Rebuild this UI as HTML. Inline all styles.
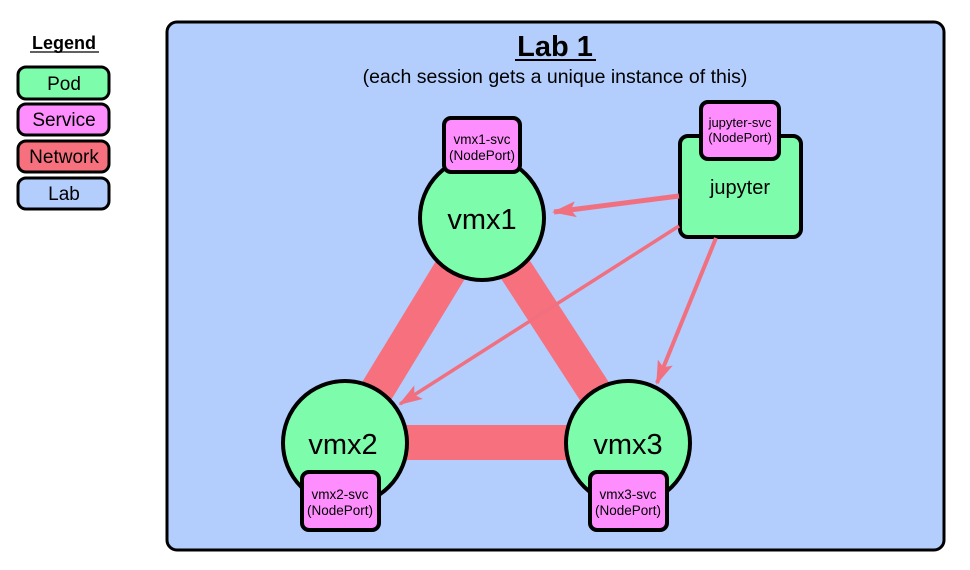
<!DOCTYPE html>
<html><head><meta charset="utf-8"><style>
html,body{margin:0;padding:0;background:#fff;}
svg{display:block;font-family:"Liberation Sans",Arial,sans-serif;}
</style></head><body>
<svg width="970" height="570" viewBox="0 0 970 570" xmlns="http://www.w3.org/2000/svg">
<defs>
<marker id="ah" markerWidth="24" markerHeight="16" refX="22" refY="8" orient="auto" markerUnits="userSpaceOnUse">
<path d="M0,0 L24,8 L0,16 L5,8 Z" fill="#f07080"/>
</marker>
</defs>
<!-- Legend -->
<text x="64" y="49" text-anchor="middle" font-size="18" font-weight="bold">Legend</text>
<line x1="30" y1="52" x2="99" y2="52" stroke="#000" stroke-width="1.3"/>
<rect x="18" y="67" width="91" height="32" rx="8" fill="#7dfdab" stroke="#000" stroke-width="3"/>
<text x="64" y="90" text-anchor="middle" font-size="19">Pod</text>
<rect x="18" y="104" width="91" height="31" rx="8" fill="#fe8efe" stroke="#000" stroke-width="3"/>
<text x="64" y="126" text-anchor="middle" font-size="19">Service</text>
<rect x="18" y="141" width="91" height="31" rx="8" fill="#f7707e" stroke="#000" stroke-width="3"/>
<text x="64" y="163" text-anchor="middle" font-size="19">Network</text>
<rect x="18" y="178" width="91" height="31" rx="8" fill="#b3cdfc" stroke="#000" stroke-width="3"/>
<text x="64" y="200" text-anchor="middle" font-size="19">Lab</text>
<!-- Lab -->
<rect x="167" y="22" width="777" height="528" rx="10" fill="#b3cdfc" stroke="#000" stroke-width="3"/>
<text x="555" y="56" text-anchor="middle" font-size="29" font-weight="bold">Lab 1</text>
<line x1="515" y1="60" x2="596" y2="60" stroke="#000" stroke-width="2"/>
<text x="555" y="83" text-anchor="middle" font-size="19.5">(each session gets a unique instance of this)</text>
<!-- network bands -->
<line x1="482" y1="218" x2="345" y2="443" stroke="#f7707e" stroke-width="34"/>
<line x1="482" y1="218" x2="628" y2="443" stroke="#f7707e" stroke-width="34"/>
<rect x="345" y="425" width="283" height="35" fill="#f7707e"/>
<!-- circles -->
<circle cx="482" cy="218" r="62" fill="#7dfdab" stroke="#000" stroke-width="4"/>
<text x="482" y="229" text-anchor="middle" font-size="29">vmx1</text>
<circle cx="345" cy="443" r="62" fill="#7dfdab" stroke="#000" stroke-width="4"/>
<text x="343" y="454" text-anchor="middle" font-size="29">vmx2</text>
<circle cx="628" cy="443" r="62" fill="#7dfdab" stroke="#000" stroke-width="4"/>
<text x="628" y="454" text-anchor="middle" font-size="29">vmx3</text>
<!-- jupyter -->
<rect x="680" y="136" width="121" height="101" rx="8" fill="#7dfdab" stroke="#000" stroke-width="4"/>
<text x="740" y="194" text-anchor="middle" font-size="20">jupyter</text>
<!-- arrows -->
<line x1="679" y1="196" x2="554" y2="212" stroke="#f07080" stroke-width="5" marker-end="url(#ah)"/>
<line x1="679" y1="226" x2="400" y2="404" stroke="#f07080" stroke-width="3.5" marker-end="url(#ah)"/>
<line x1="716" y1="238" x2="657" y2="383" stroke="#f07080" stroke-width="4" marker-end="url(#ah)"/>
<!-- services -->
<rect x="444" y="118" width="76" height="54" rx="7" fill="#fe8efe" stroke="#000" stroke-width="4"/>
<text x="482" y="144" text-anchor="middle" font-size="13.5">vmx1-svc</text>
<text x="482" y="160" text-anchor="middle" font-size="13.5">(NodePort)</text>
<rect x="701" y="102" width="78" height="57" rx="7" fill="#fe8efe" stroke="#000" stroke-width="4"/>
<text x="740" y="127" text-anchor="middle" font-size="13">jupyter-svc</text>
<text x="740" y="142" text-anchor="middle" font-size="13">(NodePort)</text>
<rect x="302" y="472" width="77" height="58" rx="7" fill="#fe8efe" stroke="#000" stroke-width="4"/>
<text x="340" y="499" text-anchor="middle" font-size="13.5">vmx2-svc</text>
<text x="340" y="515" text-anchor="middle" font-size="13.5">(NodePort)</text>
<rect x="590" y="472" width="77" height="58" rx="7" fill="#fe8efe" stroke="#000" stroke-width="4"/>
<text x="628" y="499" text-anchor="middle" font-size="13.5">vmx3-svc</text>
<text x="628" y="515" text-anchor="middle" font-size="13.5">(NodePort)</text>
</svg>
</body></html>
